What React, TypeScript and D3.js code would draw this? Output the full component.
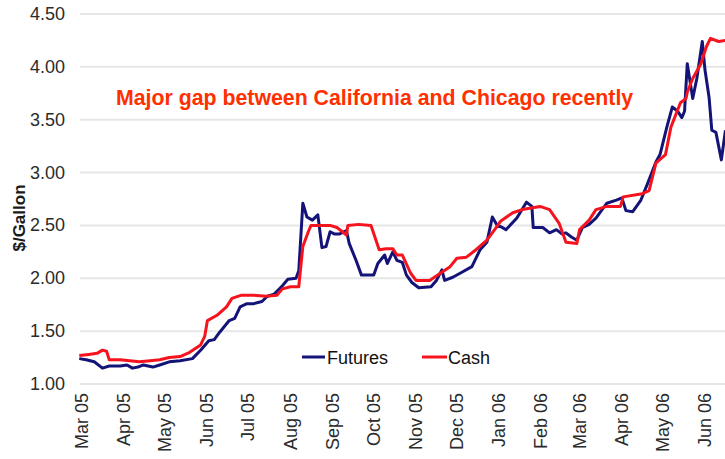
import React, { useEffect, useRef } from 'react'
import * as d3 from 'd3'

const svgWidth = 725
const svgHeight = 459
const plotLeft = 80
const yTop = 14
const yBottom = 384
const xStart = 82
const xEnd = 705

const yTicks = [1.0, 1.5, 2.0, 2.5, 3.0, 3.5, 4.0, 4.5]
const monthLabels = ['Mar 05', 'Apr 05', 'May 05', 'Jun 05', 'Jul 05', 'Aug 05', 'Sep 05', 'Oct 05',
	'Nov 05', 'Dec 05', 'Jan 06', 'Feb 06', 'Mar 06', 'Apr 06', 'May 06', 'Jun 06']

// futures (blue)
const futuresDates = ['2005-02-27', '2005-03-04', '2005-03-10', '2005-03-16', '2005-03-21', '2005-03-29',
	'2005-04-03', '2005-04-07', '2005-04-11', '2005-04-15', '2005-04-22', '2005-04-27', '2005-05-04',
	'2005-05-12', '2005-05-21', '2005-05-27', '2005-06-02', '2005-06-06', '2005-06-10', '2005-06-17',
	'2005-06-21', '2005-06-25', '2005-06-30', '2005-07-05', '2005-07-11', '2005-07-15', '2005-07-20',
	'2005-07-26', '2005-07-30', '2005-08-05', '2005-08-07', '2005-08-10', '2005-08-13', '2005-08-17',
	'2005-08-21', '2005-08-24', '2005-08-27', '2005-08-30', '2005-09-02', '2005-09-06', '2005-09-11',
	'2005-09-13', '2005-09-18', '2005-09-22', '2005-10-01', '2005-10-04', '2005-10-09', '2005-10-11',
	'2005-10-15', '2005-10-18', '2005-10-22', '2005-10-25', '2005-10-29', '2005-11-03', '2005-11-12',
	'2005-11-16', '2005-11-20', '2005-11-22', '2005-11-28', '2005-12-05', '2005-12-12', '2005-12-18',
	'2005-12-23', '2005-12-27', '2005-12-31', '2006-01-02', '2006-01-06', '2006-01-14', '2006-01-21',
	'2006-01-25', '2006-01-26', '2006-02-02', '2006-02-07', '2006-02-12', '2006-02-16', '2006-02-19',
	'2006-02-23', '2006-02-27', '2006-03-03', '2006-03-08', '2006-03-13', '2006-03-21', '2006-03-28',
	'2006-04-01', '2006-04-04', '2006-04-09', '2006-04-15', '2006-04-20', '2006-04-26', '2006-04-29',
	'2006-05-04', '2006-05-08', '2006-05-12', '2006-05-15', '2006-05-17', '2006-05-19', '2006-05-23',
	'2006-05-26', '2006-05-30', '2006-06-01', '2006-06-04', '2006-06-06', '2006-06-09', '2006-06-13',
	'2006-06-16']
const futuresValues = [1.24, 1.23, 1.21, 1.15, 1.17, 1.17,
	1.18, 1.15, 1.16, 1.18, 1.16, 1.18, 1.21,
	1.22, 1.24, 1.32, 1.41, 1.42, 1.49, 1.6,
	1.62, 1.73, 1.76, 1.76, 1.78, 1.83, 1.85,
	1.93, 1.99, 2.0, 2.07, 2.71, 2.58, 2.55,
	2.6, 2.29, 2.3, 2.44, 2.42, 2.42, 2.45,
	2.33, 2.17, 2.03, 2.03, 2.14, 2.22, 2.14,
	2.25, 2.17, 2.15, 2.03, 1.96, 1.91, 1.92,
	1.98, 2.08, 1.98, 2.01, 2.06, 2.11, 2.27,
	2.34, 2.58, 2.49, 2.49, 2.46, 2.57, 2.72,
	2.68, 2.48, 2.48, 2.43, 2.46, 2.42, 2.43,
	2.39, 2.36, 2.48, 2.51, 2.57, 2.71, 2.74,
	2.76, 2.64, 2.63, 2.74, 2.9, 3.1, 3.17,
	3.43, 3.62, 3.58, 3.52, 3.58, 4.03, 3.7,
	3.89, 4.24, 3.97, 3.71, 3.4, 3.38, 3.12,
	3.4]

// cash (red)
const cashDates = ['2005-02-27', '2005-03-06', '2005-03-12', '2005-03-16', '2005-03-19', '2005-03-21',
	'2005-03-29', '2005-04-05', '2005-04-12', '2005-04-20', '2005-04-27', '2005-05-04', '2005-05-12',
	'2005-05-19', '2005-05-27', '2005-05-30', '2005-06-01', '2005-06-08', '2005-06-15', '2005-06-19',
	'2005-06-26', '2005-07-05', '2005-07-14', '2005-07-22', '2005-07-26', '2005-08-01', '2005-08-07',
	'2005-08-10', '2005-08-14', '2005-08-16', '2005-08-30', '2005-09-04', '2005-09-11', '2005-09-12',
	'2005-09-20', '2005-09-29', '2005-10-05', '2005-10-10', '2005-10-15', '2005-10-18', '2005-10-22',
	'2005-10-28', '2005-11-01', '2005-11-11', '2005-11-18', '2005-11-26', '2005-12-01', '2005-12-08',
	'2005-12-15', '2005-12-23', '2005-12-31', '2006-01-02', '2006-01-11', '2006-01-18', '2006-01-31',
	'2006-02-07', '2006-02-14', '2006-02-19', '2006-02-27', '2006-03-01', '2006-03-08', '2006-03-13',
	'2006-03-21', '2006-03-31', '2006-04-02', '2006-04-16', '2006-04-21', '2006-04-26', '2006-05-03',
	'2006-05-07', '2006-05-14', '2006-05-18', '2006-05-19', '2006-05-23', '2006-05-29', '2006-06-02',
	'2006-06-05', '2006-06-11', '2006-06-16']
const cashValues = [1.27, 1.28, 1.29, 1.32, 1.31, 1.23,
	1.23, 1.22, 1.21, 1.22, 1.23, 1.25, 1.26,
	1.3, 1.37, 1.45, 1.6, 1.65, 1.73, 1.81,
	1.84, 1.84, 1.83, 1.84, 1.9, 1.92, 1.92,
	2.3, 2.44, 2.5, 2.5, 2.48, 2.41, 2.5,
	2.51, 2.5, 2.27, 2.28, 2.28, 2.22, 2.22,
	2.05, 1.98, 1.98, 2.04, 2.11, 2.19, 2.2,
	2.27, 2.36, 2.5, 2.54, 2.62, 2.65, 2.68,
	2.65, 2.52, 2.34, 2.33, 2.46, 2.55, 2.65,
	2.68, 2.68, 2.77, 2.8, 2.83, 3.09, 3.17,
	3.43, 3.66, 3.7, 3.76, 3.89, 4.03, 4.19,
	4.27, 4.24, 4.25]

const futuresColor = '#141478'
const cashColor = '#f5141e'
const fontFamily = 'Arial, "Liberation Sans", sans-serif'

export default function App() {
	const ref = useRef<SVGSVGElement>(null)

	useEffect(() => {
		const svg = d3.select(ref.current)
		svg.selectAll('*').remove()

		const parseDay = d3.timeParse('%Y-%m-%d')
		const parseMonth = d3.timeParse('%b %y')

		const xScale = d3
			.scaleTime()
			.domain([parseMonth(monthLabels[0]), parseMonth(monthLabels[monthLabels.length - 1])])
			.range([xStart, xEnd])
		const yScale = d3.scaleLinear().domain([1, 4.5]).range([yBottom, yTop])

		// gridlines
		svg
			.append('g')
			.selectAll('line')
			.data(yTicks)
			.enter()
			.append('line')
			.attr('x1', plotLeft)
			.attr('x2', svgWidth)
			.attr('y1', d => yScale(d))
			.attr('y2', d => yScale(d))
			.attr('stroke', '#e6e6e6')
			.attr('stroke-width', 2)

		// y tick labels
		svg
			.append('g')
			.selectAll('text')
			.data(yTicks)
			.enter()
			.append('text')
			.attr('x', 65)
			.attr('y', d => yScale(d) + 6)
			.attr('text-anchor', 'end')
			.attr('font-family', fontFamily)
			.attr('font-size', 18)
			.attr('fill', '#2b2b2b')
			.text(d => d.toFixed(2))

		// y axis title
		svg
			.append('text')
			.attr('transform', 'translate(25, 218) rotate(-90)')
			.attr('text-anchor', 'middle')
			.attr('font-family', fontFamily)
			.attr('font-size', 17)
			.attr('font-weight', 'bold')
			.attr('fill', '#1a1a1a')
			.text('$/Gallon')

		// month labels
		svg
			.append('g')
			.selectAll('text')
			.data(monthLabels)
			.enter()
			.append('text')
			.attr('transform', d => `translate(${xScale(parseMonth(d)) + 6}, 393) rotate(-90)`)
			.attr('text-anchor', 'end')
			.attr('font-family', fontFamily)
			.attr('font-size', 18)
			.attr('fill', '#2b2b2b')
			.text(d => d)

		const line = d3
			.line<[Date, number]>()
			.x(d => xScale(d[0]))
			.y(d => yScale(d[1]))

		const futures = futuresDates.map((d, i) => [parseDay(d), futuresValues[i]] as [Date, number])
		const cash = cashDates.map((d, i) => [parseDay(d), cashValues[i]] as [Date, number])

		svg
			.append('path')
			.datum(futures)
			.attr('d', line)
			.attr('fill', 'none')
			.attr('stroke', futuresColor)
			.attr('stroke-width', 3)
			.attr('stroke-linejoin', 'round')

		svg
			.append('path')
			.datum(cash)
			.attr('d', line)
			.attr('fill', 'none')
			.attr('stroke', cashColor)
			.attr('stroke-width', 3)
			.attr('stroke-linejoin', 'round')

		// legend
		const legend = svg.append('g').attr('font-family', fontFamily).attr('font-size', 18)
		legend
			.append('line')
			.attr('x1', 302).attr('x2', 325).attr('y1', 357).attr('y2', 357)
			.attr('stroke', futuresColor).attr('stroke-width', 3)
		legend.append('text').attr('x', 327).attr('y', 364).attr('fill', '#111').text('Futures')
		legend
			.append('line')
			.attr('x1', 422).attr('x2', 447).attr('y1', 357).attr('y2', 357)
			.attr('stroke', cashColor).attr('stroke-width', 3)
		legend.append('text').attr('x', 448).attr('y', 364).attr('fill', '#111').text('Cash')

		// annotation
		svg
			.append('text')
			.attr('x', 116)
			.attr('y', 105)
			.attr('font-family', fontFamily)
			.attr('font-size', 21.3)
			.attr('font-weight', 'bold')
			.attr('fill', '#ff3000')
			.text('Major gap between California and Chicago recently')
	}, [])

	return (
		<svg
			ref={ref}
			width={svgWidth}
			height={svgHeight}
			style={{ position: 'absolute', left: 0, top: 0, background: '#fff' }}
		/>
	)
}
